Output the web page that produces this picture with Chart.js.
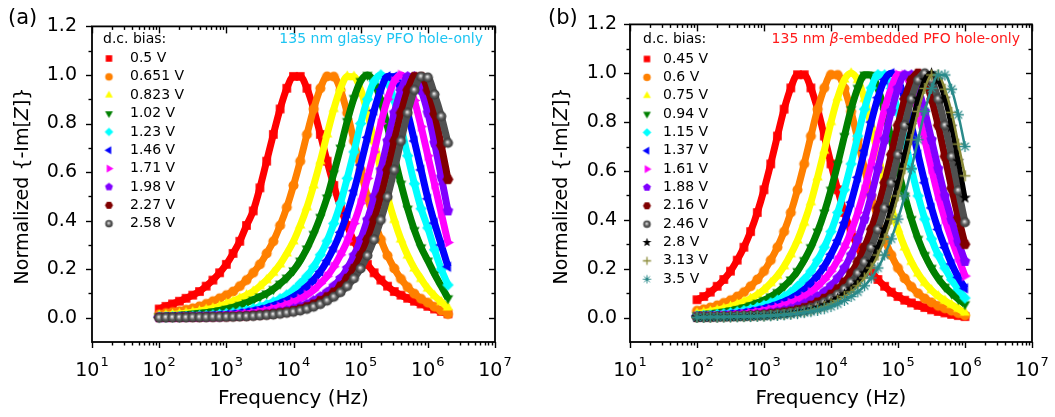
<!DOCTYPE html>
<html>
<head>
<meta charset="utf-8">
<script src="https://cdn.jsdelivr.net/npm/chart.js@4.4.1/dist/chart.umd.min.js"></script>
<style>
  html, body { margin: 0; padding: 0; background: #fff; }
  .wrap { position: relative; width: 1055px; height: 417px; }
  canvas { position: absolute; top: 0; }
</style>
</head>
<body>
<div class="wrap">
  <canvas id="chartA" width="527" height="417" style="left:0"></canvas>
  <canvas id="chartB" width="528" height="417" style="left:527px"></canvas>
</div>
<script>
// frequencies (Hz), 10 points per decade
const freqA = [100, 126, 158, 200, 251, 316, 398, 501, 631, 794,
  1000, 1259, 1585, 1995, 2512, 3162, 3981, 5012, 6310, 7943,
  10000, 12589, 15849, 19953, 25119, 31623, 39811, 50119, 63096, 79433,
  100000, 125893, 158489, 199526, 251189, 316228, 398107, 501187, 630957, 794328,
  1000000, 1258925, 1584893, 1995262];
const freqB = freqA.slice(0, 41);

const xTicks = [1e1, 1e2, 1e3, 1e4, 1e5, 1e6, 1e7];
const yTicks = [0, 0.2, 0.4, 0.6, 0.8, 1.0, 1.2];
const yMinor = [0.1, 0.3, 0.5, 0.7, 0.9, 1.1];

// (a) 135 nm glassy PFO
const biasA = ['0.5 V', '0.651 V', '0.823 V', '1.02 V', '1.23 V', '1.46 V', '1.71 V', '1.98 V', '2.27 V', '2.58 V'];
const a_050V = [0.036, 0.047, 0.057, 0.068, 0.080, 0.093, 0.108, 0.130, 0.155, 0.185,
  0.220, 0.265, 0.315, 0.380, 0.440, 0.535, 0.645, 0.755, 0.860, 0.945,
  0.994, 0.994, 0.945, 0.860, 0.755, 0.645, 0.545, 0.455, 0.380, 0.315,
  0.265, 0.220, 0.185, 0.155, 0.130, 0.108, 0.093, 0.080, 0.068, 0.057,
  0.047, 0.036, 0.026, 0.016];
const a_0651V = [0.014, 0.019, 0.023, 0.027, 0.033, 0.039, 0.047, 0.057, 0.068, 0.080,
  0.093, 0.108, 0.130, 0.155, 0.185, 0.220, 0.265, 0.315, 0.380, 0.455,
  0.545, 0.645, 0.755, 0.860, 0.945, 0.994, 0.993, 0.938, 0.844, 0.728,
  0.609, 0.498, 0.403, 0.322, 0.256, 0.203, 0.160, 0.126, 0.099, 0.078,
  0.062, 0.045, 0.030, 0.015];
const a_0823V = [0.009, 0.011, 0.013, 0.016, 0.019, 0.023, 0.027, 0.033, 0.039, 0.047,
  0.057, 0.068, 0.080, 0.093, 0.108, 0.130, 0.155, 0.185, 0.220, 0.265,
  0.315, 0.380, 0.455, 0.545, 0.645, 0.755, 0.860, 0.945, 0.994, 0.993,
  0.938, 0.844, 0.728, 0.609, 0.498, 0.403, 0.322, 0.256, 0.203, 0.160,
  0.120, 0.090, 0.065, 0.042];
const a_102V = [0.006, 0.007, 0.009, 0.010, 0.012, 0.015, 0.018, 0.021, 0.025, 0.030,
  0.036, 0.043, 0.052, 0.062, 0.074, 0.087, 0.100, 0.118, 0.140, 0.165,
  0.195, 0.235, 0.285, 0.345, 0.415, 0.495, 0.595, 0.700, 0.810, 0.905,
  0.975, 1.000, 0.972, 0.895, 0.787, 0.667, 0.552, 0.449, 0.361, 0.290,
  0.235, 0.180, 0.130, 0.080];
const a_123V = [0.003, 0.003, 0.004, 0.004, 0.005, 0.006, 0.008, 0.009, 0.011, 0.014,
  0.017, 0.020, 0.025, 0.030, 0.037, 0.045, 0.054, 0.065, 0.078, 0.094,
  0.114, 0.141, 0.171, 0.210, 0.259, 0.316, 0.388, 0.472, 0.574, 0.683,
  0.800, 0.900, 0.974, 1.000, 0.972, 0.895, 0.787, 0.667, 0.552, 0.449,
  0.370, 0.280, 0.200, 0.135];
const a_146V = [0.002, 0.003, 0.003, 0.004, 0.004, 0.005, 0.006, 0.007, 0.009, 0.010,
  0.013, 0.015, 0.019, 0.023, 0.028, 0.034, 0.041, 0.050, 0.060, 0.071,
  0.086, 0.104, 0.128, 0.156, 0.190, 0.235, 0.288, 0.352, 0.430, 0.523,
  0.629, 0.743, 0.853, 0.940, 0.994, 0.993, 0.938, 0.844, 0.728, 0.609,
  0.490, 0.390, 0.300, 0.210];
const a_171V = [0.002, 0.002, 0.002, 0.003, 0.003, 0.004, 0.004, 0.005, 0.006, 0.008,
  0.009, 0.011, 0.014, 0.017, 0.020, 0.025, 0.030, 0.037, 0.045, 0.054,
  0.065, 0.078, 0.094, 0.114, 0.141, 0.171, 0.210, 0.259, 0.316, 0.388,
  0.472, 0.574, 0.683, 0.800, 0.900, 0.974, 1.000, 0.972, 0.895, 0.787,
  0.667, 0.550, 0.430, 0.310];
const a_198V = [0.001, 0.001, 0.001, 0.002, 0.002, 0.002, 0.003, 0.003, 0.004, 0.004,
  0.005, 0.006, 0.007, 0.009, 0.011, 0.013, 0.016, 0.020, 0.024, 0.029,
  0.036, 0.045, 0.056, 0.070, 0.086, 0.105, 0.130, 0.162, 0.203, 0.256,
  0.322, 0.403, 0.498, 0.609, 0.728, 0.844, 0.938, 0.993, 0.993, 0.938,
  0.844, 0.720, 0.580, 0.440];
const a_227V = [0.001, 0.001, 0.001, 0.001, 0.002, 0.002, 0.002, 0.003, 0.003, 0.004,
  0.004, 0.005, 0.006, 0.007, 0.009, 0.011, 0.013, 0.016, 0.020, 0.024,
  0.029, 0.036, 0.045, 0.056, 0.070, 0.086, 0.105, 0.130, 0.162, 0.203,
  0.256, 0.322, 0.403, 0.498, 0.609, 0.728, 0.844, 0.938, 0.993, 0.993,
  0.938, 0.840, 0.710, 0.570];
const a_258V = [0.000, 0.001, 0.001, 0.001, 0.001, 0.002, 0.002, 0.002, 0.003, 0.003,
  0.004, 0.004, 0.005, 0.006, 0.007, 0.009, 0.011, 0.013, 0.016, 0.020,
  0.024, 0.029, 0.036, 0.045, 0.056, 0.070, 0.086, 0.105, 0.130, 0.162,
  0.203, 0.256, 0.322, 0.403, 0.498, 0.609, 0.728, 0.844, 0.938, 0.993,
  0.990, 0.920, 0.830, 0.720];
const seriesA = [a_050V, a_0651V, a_0823V, a_102V, a_123V, a_146V, a_171V, a_198V, a_227V, a_258V];

// (b) 135 nm beta-embedded PFO
const biasB = ['0.45 V', '0.6 V', '0.75 V', '0.94 V', '1.15 V', '1.37 V', '1.61 V', '1.88 V', '2.16 V', '2.46 V', '2.8 V', '3.13 V', '3.5 V'];
const b_045V = [0.073, 0.086, 0.104, 0.128, 0.156, 0.190, 0.235, 0.288, 0.352, 0.430,
  0.523, 0.629, 0.743, 0.853, 0.940, 0.994, 0.994, 0.940, 0.853, 0.743,
  0.629, 0.523, 0.430, 0.352, 0.288, 0.235, 0.190, 0.156, 0.128, 0.104,
  0.086, 0.071, 0.060, 0.050, 0.041, 0.032, 0.025, 0.019, 0.013, 0.008,
  0.004];
const b_060V = [0.028, 0.034, 0.041, 0.050, 0.060, 0.071, 0.086, 0.104, 0.128, 0.156,
  0.190, 0.235, 0.288, 0.352, 0.430, 0.523, 0.629, 0.743, 0.853, 0.940,
  0.994, 0.993, 0.938, 0.844, 0.728, 0.609, 0.498, 0.403, 0.322, 0.256,
  0.203, 0.160, 0.126, 0.099, 0.078, 0.062, 0.048, 0.038, 0.028, 0.018,
  0.009];
const b_075V = [0.017, 0.020, 0.025, 0.030, 0.037, 0.045, 0.054, 0.065, 0.078, 0.094,
  0.114, 0.141, 0.171, 0.210, 0.259, 0.316, 0.388, 0.472, 0.574, 0.683,
  0.800, 0.900, 0.974, 1.000, 0.972, 0.895, 0.787, 0.667, 0.552, 0.449,
  0.361, 0.287, 0.228, 0.180, 0.142, 0.112, 0.088, 0.069, 0.052, 0.036,
  0.020];
const b_094V = [0.010, 0.013, 0.015, 0.019, 0.023, 0.028, 0.034, 0.041, 0.050, 0.060,
  0.071, 0.086, 0.104, 0.128, 0.156, 0.190, 0.235, 0.288, 0.352, 0.430,
  0.523, 0.629, 0.743, 0.853, 0.940, 0.994, 0.993, 0.938, 0.844, 0.728,
  0.609, 0.498, 0.403, 0.322, 0.256, 0.203, 0.160, 0.126, 0.099, 0.076,
  0.055];
const b_115V = [0.007, 0.009, 0.010, 0.013, 0.015, 0.019, 0.023, 0.028, 0.034, 0.041,
  0.050, 0.060, 0.071, 0.086, 0.104, 0.128, 0.156, 0.190, 0.235, 0.288,
  0.352, 0.430, 0.523, 0.629, 0.743, 0.853, 0.940, 0.994, 0.993, 0.938,
  0.844, 0.728, 0.609, 0.498, 0.403, 0.322, 0.256, 0.203, 0.155, 0.115,
  0.080];
const b_137V = [0.005, 0.006, 0.008, 0.009, 0.011, 0.014, 0.017, 0.020, 0.025, 0.030,
  0.037, 0.045, 0.054, 0.065, 0.078, 0.094, 0.114, 0.141, 0.171, 0.210,
  0.259, 0.316, 0.388, 0.472, 0.574, 0.683, 0.800, 0.900, 0.974, 1.000,
  0.972, 0.895, 0.787, 0.667, 0.552, 0.449, 0.361, 0.287, 0.220, 0.165,
  0.120];
const b_161V = [0.004, 0.005, 0.006, 0.007, 0.009, 0.010, 0.013, 0.015, 0.019, 0.023,
  0.028, 0.034, 0.041, 0.050, 0.060, 0.071, 0.086, 0.104, 0.128, 0.156,
  0.190, 0.235, 0.288, 0.352, 0.430, 0.523, 0.629, 0.743, 0.853, 0.940,
  0.994, 0.993, 0.938, 0.844, 0.728, 0.609, 0.498, 0.403, 0.320, 0.245,
  0.170];
const b_188V = [0.003, 0.003, 0.004, 0.004, 0.005, 0.006, 0.007, 0.009, 0.011, 0.013,
  0.016, 0.020, 0.024, 0.029, 0.036, 0.045, 0.056, 0.070, 0.086, 0.105,
  0.130, 0.162, 0.203, 0.256, 0.322, 0.403, 0.498, 0.609, 0.728, 0.844,
  0.938, 0.993, 0.993, 0.938, 0.844, 0.728, 0.609, 0.498, 0.400, 0.310,
  0.230];
const b_216V = [0.002, 0.003, 0.003, 0.004, 0.004, 0.005, 0.006, 0.007, 0.008, 0.010,
  0.012, 0.015, 0.018, 0.022, 0.026, 0.032, 0.040, 0.050, 0.063, 0.078,
  0.095, 0.117, 0.145, 0.182, 0.228, 0.287, 0.361, 0.449, 0.552, 0.667,
  0.787, 0.895, 0.972, 1.000, 0.972, 0.895, 0.787, 0.660, 0.530, 0.410,
  0.300];
const b_246V = [0.002, 0.002, 0.003, 0.003, 0.004, 0.004, 0.005, 0.006, 0.007, 0.008,
  0.010, 0.012, 0.015, 0.018, 0.022, 0.026, 0.032, 0.040, 0.050, 0.063,
  0.078, 0.095, 0.117, 0.145, 0.182, 0.228, 0.287, 0.361, 0.449, 0.552,
  0.667, 0.787, 0.895, 0.972, 1.000, 0.972, 0.895, 0.787, 0.660, 0.520,
  0.390];
const b_280V = [0.001, 0.002, 0.002, 0.003, 0.003, 0.004, 0.004, 0.005, 0.006, 0.007,
  0.008, 0.010, 0.012, 0.015, 0.018, 0.022, 0.026, 0.032, 0.040, 0.050,
  0.063, 0.078, 0.095, 0.117, 0.145, 0.182, 0.228, 0.287, 0.361, 0.449,
  0.552, 0.667, 0.787, 0.895, 0.972, 1.000, 0.972, 0.895, 0.780, 0.640,
  0.490];
const b_313V = [0.001, 0.002, 0.002, 0.002, 0.003, 0.003, 0.004, 0.004, 0.005, 0.006,
  0.007, 0.009, 0.011, 0.013, 0.016, 0.020, 0.024, 0.029, 0.036, 0.045,
  0.056, 0.070, 0.086, 0.105, 0.130, 0.162, 0.203, 0.256, 0.322, 0.403,
  0.498, 0.609, 0.728, 0.844, 0.938, 0.993, 0.993, 0.935, 0.840, 0.710,
  0.580];
const b_350V = [0.001, 0.001, 0.002, 0.002, 0.002, 0.003, 0.003, 0.004, 0.004, 0.005,
  0.006, 0.007, 0.009, 0.011, 0.013, 0.016, 0.020, 0.024, 0.029, 0.036,
  0.045, 0.056, 0.070, 0.086, 0.105, 0.130, 0.162, 0.203, 0.256, 0.322,
  0.403, 0.498, 0.609, 0.728, 0.844, 0.938, 0.993, 0.993, 0.935, 0.830,
  0.700];
const seriesB = [b_045V, b_060V, b_075V, b_094V, b_115V, b_137V, b_161V, b_188V, b_216V, b_246V, b_280V, b_313V, b_350V];

// marker styles
const colors = ['#ff0000', '#ff8000', '#ffff00', '#008000', '#00ffff', '#0000ff', '#ff00ff', '#8000ff', '#800000', '#4d4d4d', '#000000', '#8c8c3a', '#2a8a8a'];
const shapes = ['square', 'circle', 'triUp', 'triDown', 'diamond', 'triLeft', 'triRight', 'pentagon', 'hexagon', 'sphere', 'star', 'plus', 'asterisk'];

const FONT = '"DejaVu Sans", sans-serif';

function makeMarker(shape, color, k) {
  const size = Math.ceil(14 * k);
  const c = document.createElement('canvas');
  c.width = size;
  c.height = size;
  const g = c.getContext('2d');
  g.translate(size / 2, size / 2);
  g.scale(k, k);
  g.fillStyle = color;
  g.strokeStyle = color;
  const poly = (n, rad, start) => {
    g.beginPath();
    for (let i = 0; i < n; i++) {
      const a = start + i * 2 * Math.PI / n;
      g.lineTo(rad * Math.cos(a), rad * Math.sin(a));
    }
    g.closePath();
    g.fill();
  };
  switch (shape) {
    case 'square': g.fillRect(-3.6, -3.6, 7.2, 7.2); break;
    case 'circle': g.beginPath(); g.arc(0, 0, 4.2, 0, 2 * Math.PI); g.fill(); break;
    case 'triUp': poly(3, 5, -Math.PI / 2); break;
    case 'triDown': poly(3, 5, Math.PI / 2); break;
    case 'triLeft': poly(3, 5, Math.PI); break;
    case 'triRight': poly(3, 5, 0); break;
    case 'diamond': poly(4, 4.8, -Math.PI / 2); break;
    case 'pentagon': poly(5, 4.6, -Math.PI / 2); break;
    case 'hexagon': poly(6, 4.5, 0); break;
    case 'sphere': {
      const grd = g.createRadialGradient(-0.5, -0.8, 0, 0, 0, 4.2);
      grd.addColorStop(0, '#ffffff');
      grd.addColorStop(0.25, '#b0b0b0');
      grd.addColorStop(0.55, '#606060');
      grd.addColorStop(1, '#363636');
      g.fillStyle = grd;
      g.beginPath(); g.arc(0, 0, 4.2, 0, 2 * Math.PI); g.fill();
      break;
    }
    case 'star': {
      g.beginPath();
      for (let i = 0; i < 10; i++) {
        const a = -Math.PI / 2 + i * Math.PI / 5;
        const rad = i % 2 === 0 ? 5.2 : 2.1;
        g.lineTo(rad * Math.cos(a), rad * Math.sin(a));
      }
      g.closePath();
      g.fill();
      break;
    }
    case 'plus':
      g.lineWidth = 1.4;
      g.beginPath(); g.moveTo(-4.5, 0); g.lineTo(4.5, 0); g.moveTo(0, -4.5); g.lineTo(0, 4.5); g.stroke();
      break;
    case 'asterisk':
      g.lineWidth = 1.1;
      g.beginPath();
      for (let i = 0; i < 4; i++) {
        const a = i * Math.PI / 4;
        g.moveTo(-4.6 * Math.cos(a), -4.6 * Math.sin(a));
        g.lineTo(4.6 * Math.cos(a), 4.6 * Math.sin(a));
      }
      g.stroke();
      break;
  }
  return c;
}

const markers = shapes.map((s, i) => makeMarker(s, colors[i], 1.2));
const legendMarkers = shapes.map((s, i) => makeMarker(s, colors[i], 0.9));
const lineColors = colors.map((c, i) => shapes[i] === 'sphere' ? '#505050' : c);
const lineWidths = shapes.map(s => s === 'plus' || s === 'asterisk' ? 2.5 : (s === 'star' ? 5 : 7));

// draws text pieces (some italic) one after the other
function drawPieces(ctx, pieces, size, startX, y) {
  let xPos = startX;
  pieces.forEach(p => {
    ctx.font = (p.it ? 'italic ' : '') + size + 'px ' + FONT;
    ctx.fillText(p.t, xPos, y);
    xPos += ctx.measureText(p.t).width;
  });
}
function piecesWidth(ctx, pieces, size) {
  let w = 0;
  pieces.forEach(p => {
    ctx.font = (p.it ? 'italic ' : '') + size + 'px ' + FONT;
    w += ctx.measureText(p.t).width;
  });
  return w;
}

function panelPlugin(cfg) {
  return {
    id: 'panel_' + cfg.tag,
    afterDraw(chart) {
      const { ctx, chartArea: ca } = chart;
      const xs = chart.scales.x;
      const ys = chart.scales.y;
      ctx.save();
      ctx.strokeStyle = '#000';
      ctx.lineWidth = 1.4;
      const tick = (x1, y1, x2, y2) => {
        ctx.beginPath(); ctx.moveTo(x1, y1); ctx.lineTo(x2, y2); ctx.stroke();
      };
      yTicks.forEach(v => {
        const p = Math.round(ys.getPixelForValue(v)) + 0.5;
        tick(ca.left - 6, p, ca.left, p);
        tick(ca.right - 6, p, ca.right, p);
      });
      yMinor.forEach(v => {
        const p = Math.round(ys.getPixelForValue(v)) + 0.5;
        tick(ca.left - 3.5, p, ca.left, p);
        tick(ca.right - 3.5, p, ca.right, p);
      });
      xTicks.forEach(v => {
        const p = Math.round(xs.getPixelForValue(v)) + 0.5;
        tick(p, ca.bottom, p, ca.bottom + 6);
        tick(p, ca.top, p, ca.top + 7);
      });
      for (let n = 1; n < 7; n++) {
        for (let k = 2; k < 10; k++) {
          const p = Math.round(xs.getPixelForValue(k * Math.pow(10, n))) + 0.5;
          tick(p, ca.bottom, p, ca.bottom + 3.5);
          tick(p, ca.top, p, ca.top + 3.5);
        }
      }
      ctx.lineWidth = 1.8;
      ctx.strokeRect(ca.left, ca.top, ca.right - ca.left, ca.bottom - ca.top);

      // x tick labels 10^n
      ctx.fillStyle = '#000';
      ctx.textBaseline = 'alphabetic';
      ctx.textAlign = 'left';
      xTicks.forEach(v => {
        const p = xs.getPixelForValue(v);
        const ex = String(Math.round(Math.log10(v)));
        ctx.font = '19px ' + FONT;
        const w1 = ctx.measureText('10').width;
        ctx.font = '13px ' + FONT;
        const w2 = ctx.measureText(ex).width;
        const start = p - (w1 + w2 + 1) / 2;
        ctx.font = '19px ' + FONT;
        ctx.fillText('10', start, 376);
        ctx.font = '13px ' + FONT;
        ctx.fillText(ex, start + w1 + 1, 366);
      });

      // axis titles
      ctx.font = '20px ' + FONT;
      ctx.textAlign = 'center';
      ctx.fillText('Frequency (Hz)', (ca.left + ca.right) / 2, 404);
      ctx.save();
      ctx.translate(cfg.yTitleX, 186);
      ctx.rotate(-Math.PI / 2);
      ctx.textAlign = 'left';
      ctx.textBaseline = 'middle';
      const yt = [{ t: 'Normalized {-Im[', it: false }, { t: 'Z', it: true }, { t: ']}', it: false }];
      drawPieces(ctx, yt, 19, -piecesWidth(ctx, yt, 19) / 2, 0);
      ctx.restore();

      // panel label
      ctx.textAlign = 'left';
      ctx.textBaseline = 'middle';
      ctx.font = '21px ' + FONT;
      ctx.fillText(cfg.panelLabel, cfg.labelX, 19);

      // sample note
      ctx.fillStyle = cfg.noteColor;
      drawPieces(ctx, cfg.note, 14, cfg.noteRight - piecesWidth(ctx, cfg.note, 14), 39.5);

      // legend
      ctx.fillStyle = '#000';
      ctx.font = '14px ' + FONT;
      ctx.fillText('d.c. bias:', cfg.legendTitleX, 39.5);
      cfg.labels.forEach((lab, i) => {
        const yy = cfg.rowY0 + i * cfg.rowStep;
        const m = legendMarkers[i];
        ctx.drawImage(m, cfg.markerX - m.width / 2, yy - m.height / 2);
        ctx.font = '14px ' + FONT;
        ctx.fillText(lab, cfg.textX, yy);
      });
      ctx.restore();
    }
  };
}

function buildChart(cfg) {
  const n = cfg.series.length;
  const datasets = cfg.series.map((vals, i) => ({
    label: cfg.labels[i],
    data: cfg.freq.map((f, j) => ({ x: f, y: vals[j] })),
    showLine: true,
    borderColor: lineColors[i],
    borderWidth: lineWidths[i],
    cubicInterpolationMode: 'monotone',
    pointStyle: markers[i],
    pointRadius: 5,
    order: n - 1 - i
  }));
  new Chart(document.getElementById(cfg.canvasId), {
    type: 'scatter',
    data: { datasets },
    options: {
      responsive: false,
      animation: false,
      events: [],
      layout: { padding: { left: 0, right: cfg.padRight, top: 15, bottom: 75 } },
      plugins: { legend: { display: false }, tooltip: { enabled: false } },
      scales: {
        x: { type: 'logarithmic', min: 10, max: 1e7, display: false },
        y: {
          type: 'linear',
          min: -0.1,
          max: 1.2,
          afterBuildTicks: s => { s.ticks = yTicks.map(v => ({ value: v })); },
          afterFit: s => { s.width = cfg.yWidth; },
          ticks: {
            font: { family: FONT, size: 19 },
            color: '#000',
            padding: cfg.tickPad,
            callback: v => Number(v).toFixed(1)
          },
          grid: { display: false, drawTicks: false },
          border: { display: false }
        }
      }
    },
    plugins: [panelPlugin(cfg)]
  });
}

buildChart({
  tag: 'a', canvasId: 'chartA', freq: freqA, series: seriesA, labels: biasA,
  yWidth: 92, padRight: 32, tickPad: 15,
  panelLabel: '(a)', labelX: 8, yTitleX: 23,
  legendTitleX: 103, markerX: 109, textX: 130, rowY0: 58.5, rowStep: 18.35,
  note: [{ t: '135 nm glassy PFO hole-only', it: false }], noteColor: '#1ec4f2', noteRight: 483
});
buildChart({
  tag: 'b', canvasId: 'chartB', freq: freqB, series: seriesB, labels: biasB,
  yWidth: 103, padRight: 23, tickPad: 13,
  panelLabel: '(b)', labelX: 21, yTitleX: 35,
  legendTitleX: 116, markerX: 120, textX: 136, rowY0: 59, rowStep: 18.35,
  note: [{ t: '135 nm ', it: false }, { t: 'β', it: true }, { t: '-embedded PFO hole-only', it: false }],
  noteColor: '#ff1a1a', noteRight: 493
});
</script>
</body>
</html>
